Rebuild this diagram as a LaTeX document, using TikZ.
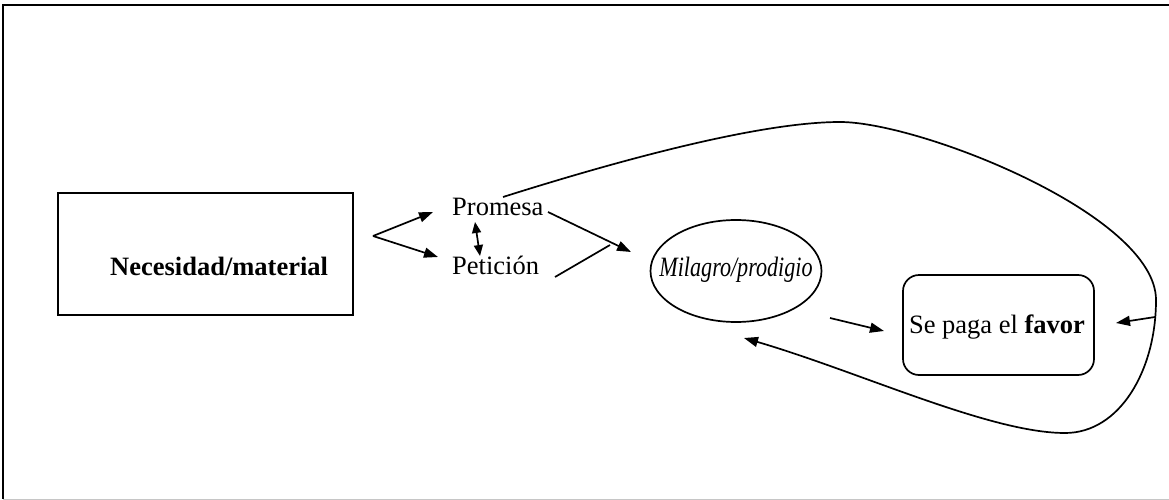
\documentclass[tikz,border=0pt]{standalone}
\usepackage{fontspec}
\setmainfont{Liberation Serif}
\usetikzlibrary{arrows.meta,shapes.geometric}
\begin{document}
\begin{tikzpicture}[x=1pt,y=-1pt,
  ln/.style={line width=1.7pt},
  arr/.style={ln,-{Triangle[length=14pt,width=10pt]}},
  darr/.style={ln,{Triangle[length=11pt,width=9pt]}-{Triangle[length=11pt,width=9pt]}},
  lbl/.style={inner sep=0pt,anchor=base west,font=\fontsize{26.5}{30}\selectfont}]
\useasboundingbox (0,0) rectangle (1169,500);
% frame
\draw[line width=1.8pt] (1169,5) -- (3,5) -- (3,499);
\draw[line width=1pt,gray!45] (3,499) -- (1169,499);
% nodes
\node[draw,ln,minimum width=295pt,minimum height=122pt,inner sep=0pt] (nec) at (205.5,254) {};
\node[lbl] (necT) at (110,275) {\bfseries Necesidad/material};
\node[lbl] (prom) at (452,215) {Promesa};
\node[lbl] (pet) at (452,274) {Petición};
\node[draw,ln,ellipse,minimum width=171pt,minimum height=102pt,inner sep=0pt] (mil) at (736,271) {};
\node[inner sep=0pt,anchor=base] (milT) at (736,276) {\scalebox{0.79}[1]{\fontsize{28}{32}\selectfont\itshape Milagro/prodigio}};
\node[draw,ln,rounded corners=16pt,minimum width=191pt,minimum height=100pt,inner sep=0pt] (fav) at (998.5,325) {};
\node[inner sep=0pt,anchor=base] (favT) at (997,333) {\fontsize{26.5}{30}\selectfont Se paga el \textbf{favor}};
% coordinates
\coordinate (split) at (373,236);
\coordinate (promTip) at (433,212);
\coordinate (petTip) at (438,257);
\coordinate (dTop) at (475,222);
\coordinate (dBot) at (480,256);
\coordinate (promOut) at (548,212);
\coordinate (milTip) at (631,252);
\coordinate (petOut) at (555,277);
\coordinate (petEnd) at (610,245);
\coordinate (milOut) at (830,318);
\coordinate (favIn) at (884,331);
\coordinate (loopStart) at (503,197);
\coordinate (loopPeak) at (840,122);
\coordinate (loopRight) at (1156,300);
\coordinate (loopSide) at (1155,317);
\coordinate (favRight) at (1116,323);
\coordinate (loopBot) at (1065,433);
\coordinate (milBack) at (744,338);
% connectors
\draw[arr] (split) -- (promTip);
\draw[arr] (split) -- (petTip);
\draw[darr] (dTop) -- (dBot);
\draw[arr] (promOut) -- (milTip);
\draw[ln] (petOut) -- (petEnd);
\draw[arr] (milOut) -- (favIn);
\draw[ln] (loopStart) .. controls (620,160) and (760,122) .. (loopPeak)
  .. controls (920,122) and (1156,215) .. (loopRight)
  .. controls (1156,370) and (1120,433) .. (loopBot);
\draw[arr] (loopBot) .. controls (990,433) and (860,372) .. (milBack);
\draw[arr] (loopSide) -- (favRight);
\end{tikzpicture}
\end{document}
